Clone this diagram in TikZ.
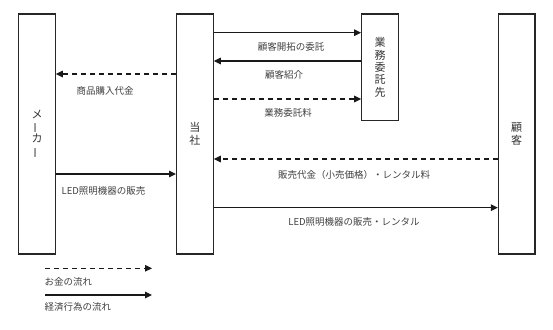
\documentclass[tikz,border=0pt]{standalone}
\usepackage{fontspec}
\newfontfamily\jp{Noto Sans CJK JP}
\usetikzlibrary{arrows.meta}
\newcommand{\vbar}{\rotatebox[origin=c]{90}{ー}}
\begin{document}
\begin{tikzpicture}[x=1pt,y=-1pt,
  box/.style={draw=black!85,line width=1.2pt,inner sep=0pt,minimum width=36.5pt,
    font=\jp\fontsize{11}{12.4}\selectfont,align=center,text=black!80},
  lbl/.style={font=\jp\fontsize{9.5}{10}\selectfont,text=black!75,inner sep=0pt},
  flow/.style={draw=black!90,line width=1.2pt,-{Triangle[length=7pt,width=6.5pt]}},
  money/.style={flow,dash pattern=on 5pt off 4pt}]
\useasboundingbox (0,0) rectangle (553,329);
% boxes
\node[box,minimum height=240pt] (maker) at (37,134) {メ\\\vbar\\カ\\\vbar};
\node[box,minimum height=240pt] (tosha) at (194.9,134) {当\\社};
\node[box,minimum height=106.5pt] (itaku) at (380,67.3) {業\\務\\委\\託\\先};
\node[box,minimum height=240pt] (kokyaku) at (516.7,134) {顧\\客};
% flows between 当社 and 業務委託先
\draw[flow] (tosha.east |- 0,32.7) -- (itaku.west |- 0,32.7);
\node[lbl] (l1) at (291,46.7) {顧客開拓の委託};
\draw[flow] (itaku.west |- 0,61) -- (tosha.east |- 0,61);
\node[lbl] (l2) at (284,75) {顧客紹介};
\draw[money] (tosha.east |- 0,99) -- (itaku.west |- 0,99);
\node[lbl] (l3) at (288,113) {業務委託料};
% maker flows
\draw[money] (tosha.west |- 0,74) -- (maker.east |- 0,74);
\node[lbl] (l4) at (105,90.7) {商品購入代金};
\draw[flow] (maker.east |- 0,174) -- (tosha.west |- 0,174);
\node[lbl,anchor=west] (l5) at (61.5,190.7) {LED照明機器の販売};
% customer flows
\draw[money] (kokyaku.west |- 0,159) -- (tosha.east |- 0,159);
\node[lbl] (l6) at (354,175) {販売代金（小売価格）・レンタル料};
\draw[flow] (tosha.east |- 0,207.7) -- (kokyaku.west |- 0,207.7);
\node[lbl] (l7) at (354,222) {LED照明機器の販売・レンタル};
% legend
\coordinate (lg1s) at (45,268.3);
\coordinate (lg1e) at (152,268.3);
\draw[money] (lg1s) -- (lg1e);
\node[lbl,anchor=west] (lg1) at (44.5,281.7) {お金の流れ};
\coordinate (lg2s) at (45,295);
\coordinate (lg2e) at (152,295);
\draw[flow] (lg2s) -- (lg2e);
\node[lbl,anchor=west] (lg2) at (44.5,307) {経済行為の流れ};
\end{tikzpicture}
\end{document}
